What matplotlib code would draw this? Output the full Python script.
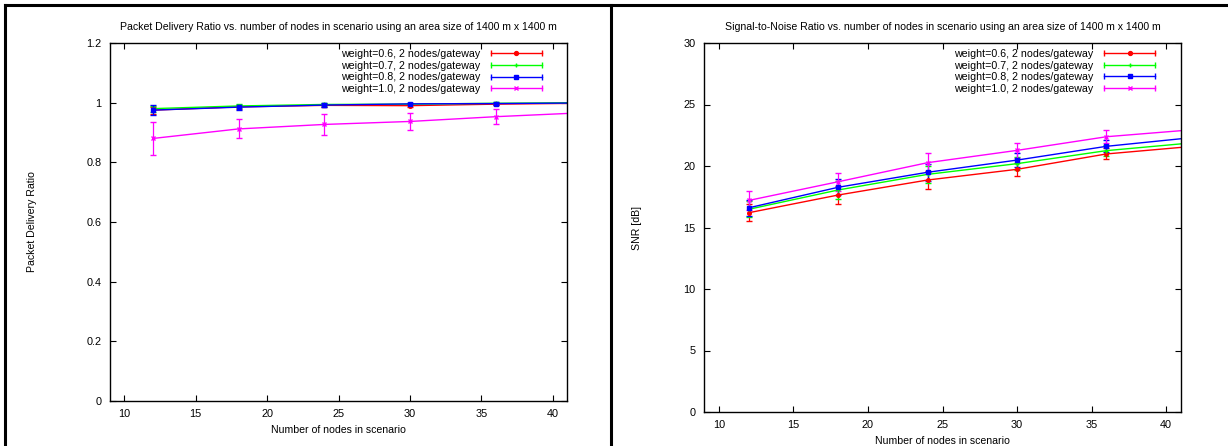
import matplotlib
matplotlib.use("Agg")
import matplotlib.pyplot as plt
from matplotlib.lines import Line2D
from matplotlib.legend_handler import HandlerBase

plt.rcParams['font.family'] = ['Liberation Sans', 'DejaVu Sans']

W, H = 1228, 446
nodes = [12, 18, 24, 30, 36, 42]
labels = ["weight=0.6, 2 nodes/gateway", "weight=0.7, 2 nodes/gateway",
          "weight=0.8, 2 nodes/gateway", "weight=1.0, 2 nodes/gateway"]
colors = ["#ff0000", "#00ff00", "#0000ff", "#ff00ff"]
markers = ["o", "+", "s", "x"]

pdr_w06 = [0.975, 0.986, 0.991, 0.990, 0.995, 0.998]
pdr_w07 = [0.980, 0.989, 0.994, 0.995, 0.998, 1.000]
pdr_w08 = [0.975, 0.985, 0.992, 0.996, 0.997, 0.999]
pdr_w10 = [0.880, 0.912, 0.927, 0.937, 0.953, 0.966]
pdr_e06 = [0.012, 0.006, 0.005, 0.004, 0.003, 0.002]
pdr_e07 = [0.010, 0.006, 0.005, 0.004, 0.003, 0.002]
pdr_e08 = [0.018, 0.008, 0.006, 0.004, 0.004, 0.003]
pdr_e10 = [0.055, 0.032, 0.036, 0.030, 0.025, 0.022]

snr_w06 = [16.20, 17.64, 18.86, 19.73, 20.98, 21.62]
snr_w07 = [16.48, 18.05, 19.32, 20.19, 21.25, 21.91]
snr_w08 = [16.60, 18.27, 19.49, 20.48, 21.60, 22.34]
snr_w10 = [17.20, 18.72, 20.27, 21.27, 22.38, 22.97]
snr_e06 = [0.70, 0.75, 0.75, 0.55, 0.45, 0.45]
snr_e07 = [0.65, 0.70, 0.70, 0.55, 0.45, 0.45]
snr_e08 = [0.65, 0.65, 0.70, 0.60, 0.50, 0.50]
snr_e10 = [0.80, 0.73, 0.75, 0.63, 0.55, 0.55]

pdr_vals = [pdr_w06, pdr_w07, pdr_w08, pdr_w10]
pdr_errs = [pdr_e06, pdr_e07, pdr_e08, pdr_e10]
snr_vals = [snr_w06, snr_w07, snr_w08, snr_w10]
snr_errs = [snr_e06, snr_e07, snr_e08, snr_e10]

xticks = [10, 15, 20, 25, 30, 35, 40]
pdr_yticks = [0, 0.2, 0.4, 0.6, 0.8, 1, 1.2]
snr_yticks = [0, 5, 10, 15, 20, 25, 30]

FS = 7.6

fig = plt.figure(figsize=(W / 100, H / 100), dpi=100)


def rect(x0, y0, x1, y1):
    return [x0 / W, 1 - y1 / H, (x1 - x0) / W, (y1 - y0) / H]


class GPHandler(HandlerBase):
    def create_artists(self, legend, orig_handle, xdescent, ydescent,
                       width, height, fontsize, trans):
        c = orig_handle.get_color()
        m = orig_handle.get_marker()
        y = height / 2 - ydescent
        x0, x1 = -xdescent, -xdescent + width
        ln = Line2D([x0, x1], [y, y], color=c, lw=1.0)
        caps = Line2D([x0, x1], [y, y], ls='none', marker='|', ms=4,
                      mew=1.0, color=c)
        mk = Line2D([(x0 + x1) / 2], [y], ls='none', marker=m, ms=2.8,
                    mew=1.0, color=c)
        for a in (ln, caps, mk):
            a.set_transform(trans)
        return [ln, caps, mk]


def panel(box, vals, errs, yticks, ylim, title, ylabel, ylabel_x, xlabel_pad):
    ax = fig.add_axes(rect(*box))
    handles = []
    for v, e, c, m, lab in zip(vals, errs, colors, markers, labels):
        cont = ax.errorbar(nodes, v, yerr=e, color=c, marker=m, ms=2.6,
                           mew=1.0, lw=1.0, elinewidth=0.9, capsize=2.2,
                           capthick=0.9, label=lab, clip_on=True)
        handles.append(cont[0])
    ax.set_xlim(9, 41)
    ax.set_ylim(*ylim)
    ax.set_xticks(xticks)
    ax.set_yticks(yticks)
    ax.set_yticklabels(['%g' % t for t in yticks])
    ax.tick_params(direction='in', length=4, width=0.8, top=True, right=True,
                   labelsize=FS + 0.2, pad=6)
    for s in ax.spines.values():
        s.set_linewidth(1.0)
    ax.set_xlabel("Number of nodes in scenario", fontsize=FS,
                  labelpad=xlabel_pad)
    ax.set_ylabel(ylabel, fontsize=FS)
    ax.yaxis.set_label_coords(ylabel_x, 0.5)
    ax.set_title(title, fontsize=FS, pad=9)
    ax.legend(handles, labels, loc='upper right', bbox_to_anchor=(0.964, 1.007),
              markerfirst=False, frameon=False, fontsize=FS + 0.1,
              handler_map={Line2D: GPHandler()}, handlelength=4.8,
              handletextpad=1.0, labelspacing=0.15, borderpad=0.3)
    return ax


panel((110, 43, 567, 401), pdr_vals, pdr_errs, pdr_yticks, (0, 1.2),
      "Packet Delivery Ratio vs. number of nodes in scenario using an area size of 1400 m x 1400 m",
      "Packet Delivery Ratio", -0.16, 4)
panel((704, 43, 1181, 412), snr_vals, snr_errs, snr_yticks, (0, 30),
      "Signal-to-Noise Ratio vs. number of nodes in scenario using an area size of 1400 m x 1400 m",
      "SNR [dB]", -0.13, 4)

# page frame lines
fig.add_artist(Line2D([5 / W, 1], [1 - 5 / H, 1 - 5 / H], color='black', lw=2.2))
fig.add_artist(Line2D([5 / W, 5 / W], [0, 1 - 5 / H], color='black', lw=2.2))
fig.add_artist(Line2D([611 / W, 611 / W], [0, 1 - 5 / H], color='black', lw=2.2))

fig.savefig("out.png", dpi=100)
